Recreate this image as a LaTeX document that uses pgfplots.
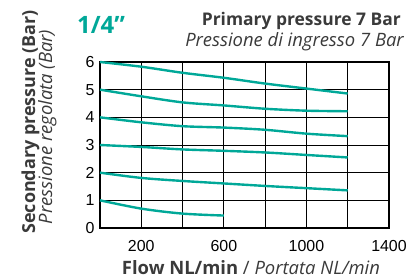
\documentclass[border=0pt]{standalone}
\usepackage{pgfplots}
\pgfplotsset{compat=1.18}
\usepackage{fontspec}
\setmainfont{Open Sans}
\newfontfamily\tickfont{Liberation Sans}
\definecolor{teal1}{RGB}{0,168,152}
\definecolor{txt}{RGB}{58,58,58}
\begin{document}
\begin{tikzpicture}[x=1bp,y=1bp]
\path[use as bounding box] (0,0) rectangle (407,280);
\begin{axis}[
  at={(100bp,52bp)}, anchor=south west,
  scale only axis, width=289bp, height=166bp,
  xmin=0, xmax=1400, ymin=0, ymax=6,
  xtick={200,600,1000,1400},
  minor xtick={400,800,1200},
  ytick={0,1,2,3,4,5,6},
  grid=both,
  major grid style={black, line width=1pt},
  minor grid style={black, line width=1pt},
  axis line style={black, line width=1.3pt},
  major tick length=0pt, minor tick length=0pt,
  tick style={draw=none},
  ticklabel style={font=\tickfont\fontsize{16}{16}\selectfont, text=black},
  /pgf/number format/assume math mode=true,
  /pgf/number format/1000 sep={},
  xticklabel style={yshift=-9bp},
  yticklabel style={xshift=-2bp},
  clip=false,
]
\addplot[teal1, line width=2.4pt, smooth, tension=0.5] coordinates {(0,6.0) (200,5.83) (400,5.61) (600,5.43) (800,5.22) (1000,5.04) (1200,4.86)};
\addplot[teal1, line width=2.4pt, smooth, tension=0.5] coordinates {(0,5.0) (200,4.76) (400,4.54) (600,4.43) (800,4.31) (1000,4.24) (1200,4.22)};
\addplot[teal1, line width=2.4pt, smooth, tension=0.5] coordinates {(0,4.0) (200,3.82) (400,3.68) (600,3.63) (800,3.55) (1000,3.41) (1200,3.32)};
\addplot[teal1, line width=2.4pt, smooth, tension=0.5] coordinates {(0,3.0) (200,2.93) (400,2.84) (600,2.79) (800,2.73) (1000,2.64) (1200,2.55)};
\addplot[teal1, line width=2.4pt, smooth, tension=0.5] coordinates {(0,2.0) (200,1.81) (400,1.70) (600,1.61) (800,1.52) (1000,1.44) (1200,1.36)};
\addplot[teal1, line width=2.4pt, smooth, tension=0.5] coordinates {(0,1.0) (200,0.70) (400,0.52) (600,0.45)};
\end{axis}
\node[anchor=base west, text=teal1, font=\bfseries\fontsize{24}{24}\selectfont, inner sep=0] at (77,247) {1/4”};
\node[anchor=base east, text=txt, font=\bfseries\fontsize{17.5}{18}\selectfont, inner sep=0] at (401,255) {Primary pressure 7 Bar};
\node[anchor=base east, text=txt, font=\itshape\fontsize{18.5}{19}\selectfont, inner sep=0] at (404,234) {Pressione di ingresso 7 Bar};
\node[anchor=base, rotate=90, text=txt, font=\bfseries\fontsize{18}{18}\selectfont, inner sep=0] at (35,158) {Secondary pressure (Bar)};
\node[anchor=base, rotate=90, text=txt, font=\itshape\fontsize{18.5}{19}\selectfont, inner sep=0] at (52,153) {Pressione regolata (Bar)};
\node[anchor=base, text=txt, font=\fontsize{18.5}{19}\selectfont, inner sep=0] at (251,5.5) {\textbf{Flow NL/min} / \textit{Portata NL/min}};
\end{tikzpicture}
\end{document}
